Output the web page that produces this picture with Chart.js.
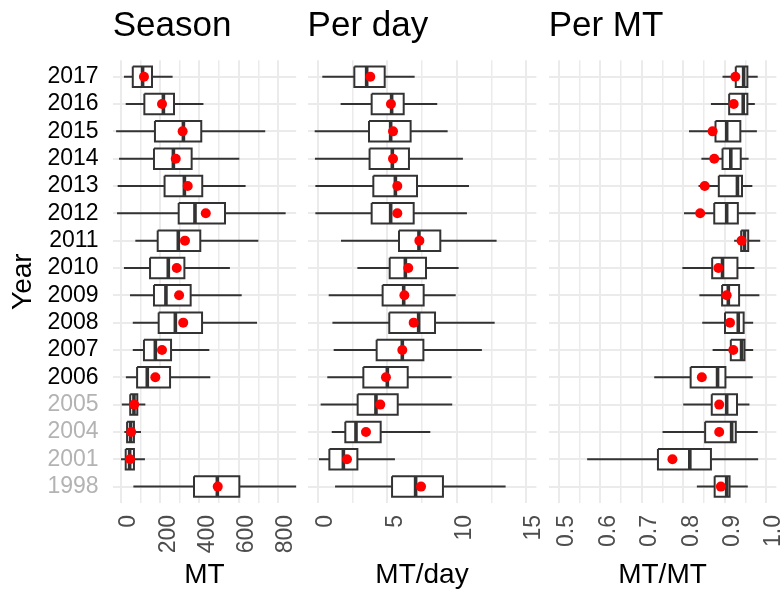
<!DOCTYPE html>
<html>
<head>
<meta charset="utf-8">
<script src="https://cdn.jsdelivr.net/npm/chart.js@4"></script>
<style>
  html, body { margin: 0; padding: 0; background: #ffffff; overflow: hidden; }
  body { width: 782px; height: 593px; position: relative; }
  canvas { position: absolute; left: 0; top: 0; }
</style>
</head>
<body>
<canvas id="seasonChart" width="830" height="593"></canvas>
<canvas id="perDayChart" width="830" height="593"></canvas>
<canvas id="perMtChart" width="830" height="593"></canvas>

<script>
/* =========================================================
   DATA — one row per year, top to bottom
========================================================= */

const years = ["2017", "2016", "2015", "2014", "2013", "2012", "2011", "2010",
               "2009", "2008", "2007", "2006", "2005", "2004", "2001", "1998"];
const greyYears = ["2005", "2004", "2001", "1998"];

// Season (MT)
const seasonLo   = [15, 24, -25, -10, -17, -20, 73, 15, 46, 60, 60, 25, 4, 17, 0, 63];
const seasonQ1   = [60, 119, 173, 168, 222, 294, 187, 148, 168, 192, 117, 82, 47, 31, 24, 372];
const seasonMed  = [110, 216, 318, 267, 323, 377, 292, 241, 229, 277, 175, 134, 66, 49, 44, 491];
const seasonQ3   = [158, 270, 409, 360, 414, 530, 404, 323, 355, 413, 255, 250, 83, 66, 66, 603];
const seasonHi   = [263, 420, 735, 603, 635, 839, 700, 555, 615, 693, 450, 455, 124, 102, 122, 900];
const seasonMean = [117, 209, 314, 279, 340, 432, 326, 284, 296, 317, 209, 175, 67, 52, 46, 493];

// Per day (MT/day)
const dayLo   = [0.31, 1.63, -0.24, -0.22, -0.19, -0.19, 1.66, 2.84, 0.77, 1.04, 1.13, 0.67, 0.19, 0.99, 0.07, 1.23];
const dayQ1   = [2.62, 3.87, 3.68, 3.72, 3.99, 3.87, 5.84, 5.17, 4.66, 5.14, 4.23, 3.27, 2.86, 1.97, 0.82, 5.34];
const dayMed  = [3.51, 5.31, 5.24, 5.36, 5.58, 5.24, 7.28, 6.30, 6.18, 7.26, 6.08, 5.00, 4.18, 2.74, 1.83, 7.04];
const dayQ3   = [4.81, 6.18, 6.68, 6.56, 7.14, 6.90, 8.82, 7.79, 7.62, 8.44, 7.60, 6.47, 5.75, 4.52, 2.84, 9.01];
const dayHi   = [6.97, 8.60, 9.35, 10.45, 10.89, 10.74, 12.88, 10.14, 9.93, 12.74, 11.82, 9.64, 9.68, 8.10, 5.55, 13.53];
const dayMean = [3.77, 5.26, 5.41, 5.41, 5.72, 5.72, 7.31, 6.51, 6.23, 6.90, 6.08, 4.90, 4.49, 3.46, 2.09, 7.43];

// Per MT (MT/MT)
const mtLo   = [0.895, 0.867, 0.814, 0.844, 0.837, 0.802, 0.923, 0.798, 0.839, 0.846, 0.871, 0.730, 0.800, 0.750, 0.568, 0.833];
const mtQ1   = [0.927, 0.911, 0.878, 0.895, 0.886, 0.875, 0.940, 0.870, 0.894, 0.901, 0.915, 0.818, 0.869, 0.853, 0.739, 0.876];
const mtMed  = [0.946, 0.945, 0.905, 0.915, 0.931, 0.905, 0.948, 0.895, 0.909, 0.933, 0.941, 0.883, 0.905, 0.917, 0.816, 0.905];
const mtQ3   = [0.955, 0.955, 0.938, 0.939, 0.942, 0.932, 0.957, 0.931, 0.935, 0.946, 0.948, 0.902, 0.930, 0.927, 0.867, 0.912];
const mtHi   = [0.980, 0.973, 0.978, 0.958, 0.967, 0.975, 0.986, 0.972, 0.984, 0.969, 0.969, 0.968, 0.960, 0.980, 0.981, 0.956];
const mtMean = [0.926, 0.922, 0.871, 0.875, 0.852, 0.841, 0.941, 0.885, 0.905, 0.913, 0.921, 0.845, 0.887, 0.887, 0.774, 0.891];

// Axis ticks (major ticks carry labels, minor ticks only a grid line)
const seasonMajor = [0, 200, 400, 600, 800];
const seasonMinor = [100, 300, 500, 700];
const dayMajor    = [0, 5, 10, 15];
const dayMinor    = [2.5, 7.5, 12.5];
const mtMajor     = [0.5, 0.6, 0.7, 0.8, 0.9, 1.0];
const mtMinor     = [0.55, 0.65, 0.75, 0.85, 0.95];

/* =========================================================
   STYLE
========================================================= */

const FONT = "'Liberation Sans', Arial, Helvetica, sans-serif";
const INK = "#333333";
const GRID = "#EBEBEB";
const PAGE_W = 830;
const PAGE_H = 593;
const PANEL_TOP = 60.3;
const PANEL_BOTTOM = 503;
const HALF_BOX = 0.375;   // box half-height in row units

Chart.defaults.font.family = FONT;
Chart.defaults.color = "#000000";

/* =========================================================
   HELPERS
========================================================= */

function isMajor(value, majors) {
  return majors.some(m => Math.abs(m - value) < 1e-9);
}

const GAP = { x: null, y: null };

// one polyline per row, broken by gaps
function segments(rowFn) {
  return years.flatMap((_, i) => rowFn(i).concat([GAP]));
}

function lineSet(data, width, order) {
  return {
    type: "line",
    indexAxis: "x",
    data,
    borderColor: INK,
    borderWidth: width,
    borderJoinStyle: "miter",
    pointRadius: 0,
    spanGaps: false,
    fill: false,
    order
  };
}

function buildDatasets(lo, q1, med, q3, hi, mean) {
  const rows = years.map((_, i) => i);

  const whiskers = segments(i => [
    { x: lo[i], y: i }, { x: q1[i], y: i }, GAP,
    { x: q3[i], y: i }, { x: hi[i], y: i }
  ]);
  const outlines = segments(i => [
    { x: q1[i], y: i - HALF_BOX }, { x: q3[i], y: i - HALF_BOX },
    { x: q3[i], y: i + HALF_BOX }, { x: q1[i], y: i + HALF_BOX },
    { x: q1[i], y: i - HALF_BOX }
  ]);
  const medians = segments(i => [
    { x: med[i], y: i - HALF_BOX }, { x: med[i], y: i + HALF_BOX }
  ]);

  return [
    {
      type: "scatter",
      data: rows.map(i => ({ x: mean[i], y: i })),
      pointRadius: 5,
      pointBackgroundColor: "#ff0000",
      pointBorderWidth: 0,
      order: 0
    },
    lineSet(medians, 3.6, 1),
    lineSet(outlines, 2, 2),
    {
      type: "bar",
      indexAxis: "y",
      grouped: false,
      data: rows.map(i => ({ x: [q1[i], q3[i]], y: i })),
      barPercentage: 1,
      categoryPercentage: 1,
      barThickness: 20.5,
      backgroundColor: "#ffffff",
      borderWidth: 0,
      order: 3
    },
    lineSet(whiskers, 2, 4)
  ];
}

function renderPanel(canvasId, cfg) {
  const ctx = document.getElementById(canvasId);
  const majors = cfg.major;
  const allTicks = cfg.major.concat(cfg.minor).sort((a, b) => a - b);

  return new Chart(ctx, {
    type: "bar",
    data: { datasets: cfg.datasets },
    options: {
      indexAxis: "y",
      responsive: false,
      animation: false,
      devicePixelRatio: 1,
      events: [],
      layout: {
        padding: {
          left: cfg.showYears ? 0 : cfg.left,
          right: PAGE_W - cfg.right,
          top: 0,
          bottom: 0
        }
      },
      plugins: {
        legend: { display: false },
        tooltip: { enabled: false },
        title: {
          display: true,
          text: cfg.title,
          align: "start",
          fullSize: false,
          color: "#000000",
          font: { size: 35, weight: "normal", family: FONT },
          padding: { top: 5.7, bottom: PANEL_TOP - 42 - 5.7 }
        }
      },
      scales: {
        x: {
          type: "linear",
          min: cfg.min,
          max: cfg.max,
          border: { display: false },
          grid: {
            color: GRID,
            drawTicks: false,
            lineWidth: c => (isMajor(c.tick.value, majors) ? 2 : 1.5)
          },
          ticks: {
            autoSkip: false,
            minRotation: 90,
            maxRotation: 90,
            padding: 12,
            labelOffset: 8,
            color: "#4D4D4D",
            font: { size: 23 },
            callback: v => (isMajor(v, majors) ? cfg.format(v) : "")
          },
          afterBuildTicks: scale => {
            scale.ticks = allTicks.map(v => ({ value: v }));
          },
          afterFit: scale => {
            scale.height = PAGE_H - PANEL_BOTTOM;
            scale.paddingLeft = 0;
            scale.paddingRight = 0;
          },
          title: {
            display: true,
            text: cfg.axisTitle,
            color: "#000000",
            font: { size: 28 },
            padding: { top: 0, bottom: 1.2 }
          }
        },
        y: {
          type: "linear",
          min: -0.6,
          max: years.length - 0.4,
          reverse: true,
          offset: false,
          border: { display: false },
          grid: { color: GRID, lineWidth: 2, drawTicks: false, offset: false },
          ticks: {
            display: cfg.showYears,
            autoSkip: false,
            padding: 14,
            font: { size: 23 },
            color: c => (greyYears.includes(years[c.tick.value]) ? "#B3B3B3" : "#000000"),
            callback: v => years[v]
          },
          afterBuildTicks: scale => {
            scale.ticks = years.map((_, i) => ({ value: i }));
          },
          afterFit: scale => {
            scale.width = cfg.showYears ? cfg.left : 0;
            scale.paddingTop = 0;
            scale.paddingBottom = 0;
          },
          title: {
            display: cfg.showYears,
            text: "Year",
            color: "#000000",
            font: { size: 28 },
            padding: { top: 6.2, bottom: 0 }
          }
        }
      }
    }
  });
}

/* =========================================================
   PANELS
========================================================= */

renderPanel("seasonChart", {
  title: "Season",
  axisTitle: "MT",
  showYears: true,
  left: 112.66,
  right: 296.15,
  min: -42.5,
  max: 892.5,
  major: seasonMajor,
  minor: seasonMinor,
  format: v => String(v),
  datasets: buildDatasets(seasonLo, seasonQ1, seasonMed, seasonQ3, seasonHi, seasonMean)
});

renderPanel("perDayChart", {
  title: "Per day",
  axisTitle: "MT/day",
  showYears: false,
  left: 307.6,
  right: 536.4,
  min: -0.75,
  max: 15.75,
  major: dayMajor,
  minor: dayMinor,
  format: v => String(v),
  datasets: buildDatasets(dayLo, dayQ1, dayMed, dayQ3, dayHi, dayMean)
});

renderPanel("perMtChart", {
  title: "Per MT",
  axisTitle: "MT/MT",
  showYears: false,
  left: 548.65,
  right: 776.35,
  min: 0.475,
  max: 1.025,
  major: mtMajor,
  minor: mtMinor,
  format: v => v.toFixed(1),
  datasets: buildDatasets(mtLo, mtQ1, mtMed, mtQ3, mtHi, mtMean)
});
</script>
</body>
</html>
